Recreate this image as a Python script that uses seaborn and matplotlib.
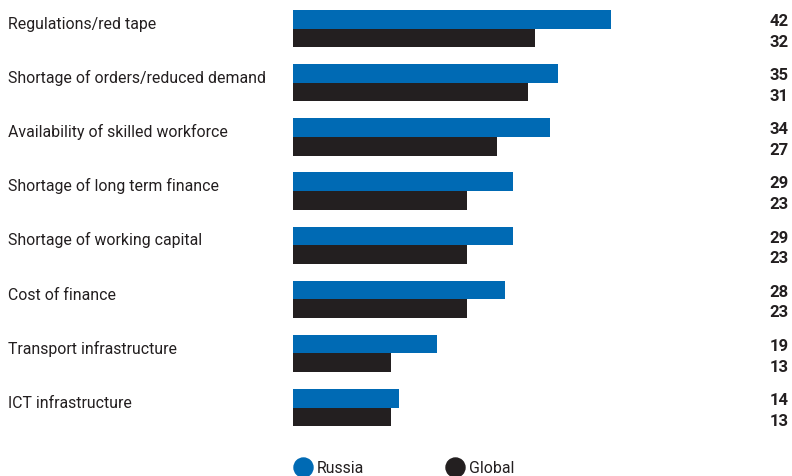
import matplotlib
matplotlib.use("Agg")
import matplotlib.pyplot as plt
from matplotlib.lines import Line2D
import matplotlib.transforms as mtransforms
import seaborn as sns
import pandas as pd

categories = [
    "Regulations/red tape",
    "Shortage of orders/reduced demand",
    "Availability of skilled workforce",
    "Shortage of long term finance",
    "Shortage of working capital",
    "Cost of finance",
    "Transport infrastructure",
    "ICT infrastructure",
]
russia = [42, 35, 34, 29, 29, 28, 19, 14]
global_ = [32, 31, 27, 23, 23, 23, 13, 13]
series = ["Russia", "Global"]
colors = ["#006AB4", "#231F20"]

sns.set_theme(style="white")
plt.rcParams["font.family"] = ["Roboto", "DejaVu Sans"]

df = pd.DataFrame({
    "category": categories * 2,
    "value": russia + global_,
    "series": [series[0]] * len(categories) + [series[1]] * len(categories),
})

W, H = 792, 477
fig = plt.figure(figsize=(W / 100, H / 100), dpi=100)
x0, xmax, px_per_unit = 293, 45, 7.571
ax_top, ax_h = 2.6, 433.0
ax = fig.add_axes([x0 / W, 1 - (ax_top + ax_h) / H, xmax * px_per_unit / W, ax_h / H])

bar_w = 0.689
sns.barplot(data=df, y="category", x="value", hue="series", orient="h",
            palette=colors, width=bar_w, saturation=1, ax=ax, legend=False,
            errorbar=None, linewidth=0)
ax.set_xlim(0, xmax)
ax.set_ylim(len(categories) - 0.5, -0.5)
ax.set_axis_off()

off = bar_w / 4
lab_tr = mtransforms.blended_transform_factory(fig.transFigure, ax.transData)
for i, cat in enumerate(categories):
    ax.text(8 / W, i - off + 0.159, cat, transform=lab_tr, ha="left",
            va="baseline", fontsize=11.4, color="#231F20")
    ax.text(789 / W, i - off + 0.105, f"{russia[i]}", transform=lab_tr, ha="right",
            va="baseline", fontsize=12, fontweight="bold", color="#231F20")
    ax.text(789 / W, i - off + 0.49, f"{global_[i]}", transform=lab_tr, ha="right",
            va="baseline", fontsize=12, fontweight="bold", color="#231F20")

handles = [Line2D([], [], marker="o", linestyle="", markersize=13.7,
                  markerfacecolor=c, markeredgecolor=c) for c in colors]
fig.legend(handles, series, loc="center left", bbox_to_anchor=(293.5 / W, 1 - 469 / H),
           ncol=2, frameon=False, fontsize=11.4, handletextpad=0.3,
           columnspacing=5.1, handlelength=1.2, borderaxespad=0, borderpad=0,
           labelcolor="#231F20")

fig.savefig("out.png", dpi=100)
